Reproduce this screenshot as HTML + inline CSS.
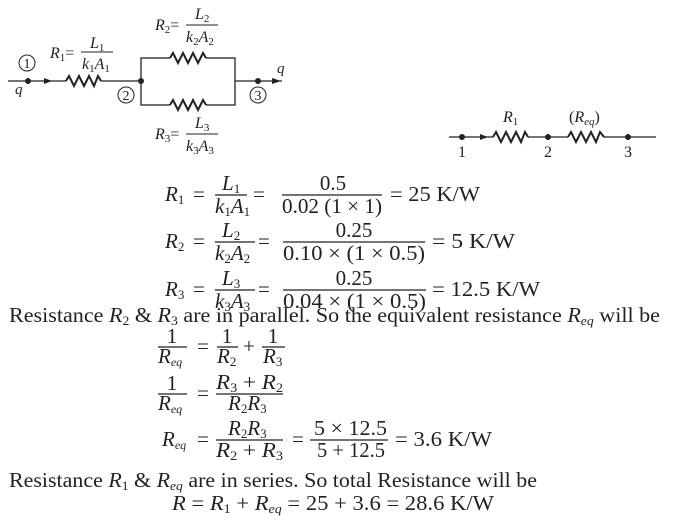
<!DOCTYPE html>
<html><head><meta charset="utf-8"><style>
html,body{margin:0;padding:0;background:#fff;}
svg{display:block;}
text{font-family:"Liberation Serif",serif;fill:#222;}
.i{font-style:italic;}
</style></head><body>
<svg width="698" height="521" viewBox="0 0 698 521" xmlns="http://www.w3.org/2000/svg">
<g stroke="#222" stroke-width="1.3" fill="none">
<line x1="8" y1="81" x2="66" y2="81"/>
<polyline points="66,81 69,76 74,86 79,76 84,86 89,76 94,86 98,76 101,81" stroke-width="2"/>
<line x1="101" y1="81" x2="141" y2="81"/>
<rect x="141" y="58" width="94" height="47"/>
<line x1="235" y1="81" x2="282" y2="81"/>
<line x1="449" y1="137" x2="493" y2="137"/>
<line x1="528" y1="137" x2="568" y2="137"/>
<line x1="604" y1="137" x2="656" y2="137"/>
</g>
<g fill="#fff" stroke="none">
<rect x="170" y="52" width="36" height="12"/><rect x="170" y="99" width="36" height="12"/>
</g>
<g stroke="#222" stroke-width="2" fill="none">
<polyline points="170,58 173,53 178,63 183,53 188,63 193,53 198,63 203,53 206,58"/>
<polyline points="170,105 173,100 178,110 183,100 188,110 193,100 198,110 203,100 206,105"/>
<polyline points="493,137 496,132 501,142 506,132 511,142 516,132 521,142 525,132 528,137"/>
<polyline points="568,137 571,132 576,142 581,132 586,142 591,132 596,142 600,132 604,137"/>
</g>
<g fill="#222">
<circle cx="28" cy="81" r="3"/><circle cx="141" cy="81" r="3"/><circle cx="258" cy="81" r="3"/>
<polygon points="44,78 52,81 44,84"/><polygon points="272,78 281,81 272,84"/>
<circle cx="462" cy="137" r="3"/><circle cx="548" cy="137" r="3"/><circle cx="628" cy="137" r="3"/>
<polygon points="480,134 488,137 480,140"/>
</g>
<g fill="none" stroke="#222" stroke-width="1">
<circle cx="27" cy="63" r="8"/><circle cx="126" cy="95" r="8"/><circle cx="258" cy="95" r="8"/>
</g>
<g font-size="14" text-anchor="middle">
<text x="27" y="68">1</text><text x="126" y="100">2</text><text x="258" y="100">3</text>
</g>
<text x="15" y="94" font-size="15" class="i">q</text>
<text x="277" y="73" font-size="15" class="i">q</text>
<g font-size="16">
<text x="50" y="58" class="i">R<tspan font-size="11" dy="3" font-style="normal">1</tspan><tspan dy="-3" font-style="normal">=</tspan></text>
<text x="90" y="48" class="i">L<tspan font-size="11" dy="3" font-style="normal">1</tspan></text>
<line x1="81" y1="52" x2="113" y2="52" stroke="#222"/>
<text x="82" y="69" class="i">k<tspan font-size="11" dy="3" font-style="normal">1</tspan><tspan dy="-3">A</tspan><tspan font-size="11" dy="3" font-style="normal">1</tspan></text>

<text x="155" y="30" class="i">R<tspan font-size="11" dy="3" font-style="normal">2</tspan><tspan dy="-3" font-style="normal">=</tspan></text>
<text x="195" y="19" class="i">L<tspan font-size="11" dy="3" font-style="normal">2</tspan></text>
<line x1="186" y1="25" x2="218" y2="25" stroke="#222"/>
<text x="186" y="42" class="i">k<tspan font-size="11" dy="3" font-style="normal">2</tspan><tspan dy="-3">A</tspan><tspan font-size="11" dy="3" font-style="normal">2</tspan></text>

<text x="155" y="139" class="i">R<tspan font-size="11" dy="3" font-style="normal">3</tspan><tspan dy="-3" font-style="normal">=</tspan></text>
<text x="195" y="128" class="i">L<tspan font-size="11" dy="3" font-style="normal">3</tspan></text>
<line x1="186" y1="134" x2="218" y2="134" stroke="#222"/>
<text x="186" y="151" class="i">k<tspan font-size="11" dy="3" font-style="normal">3</tspan><tspan dy="-3">A</tspan><tspan font-size="11" dy="3" font-style="normal">3</tspan></text>

<text x="503" y="122" class="i">R<tspan font-size="11" dy="3" font-style="normal">1</tspan></text>
<text x="569" y="122">(<tspan class="i">R</tspan><tspan class="i" font-size="11" dy="3">eq</tspan><tspan dy="-3">)</tspan></text>
<text x="458" y="157">1</text><text x="544" y="157">2</text><text x="624" y="157">3</text>
</g>
<g font-size="21">
<text x="165" y="201" class="i">R<tspan font-size="13" dy="3" font-style="normal">1</tspan></text>
<text x="193" y="201">=</text>
<text x="222" y="190" class="i">L<tspan font-size="13" dy="3" font-style="normal">1</tspan></text>
<line x1="215" y1="195" x2="247" y2="195" stroke="#222" stroke-width="1.2"/>
<text x="215" y="213" class="i">k<tspan font-size="13" dy="3" font-style="normal">1</tspan><tspan dy="-3">A</tspan><tspan font-size="13" dy="3" font-style="normal">1</tspan></text>
<text x="253" y="201">=</text>
<text x="333" y="190" text-anchor="middle">0.5</text>
<line x1="282" y1="195" x2="382" y2="195" stroke="#222" stroke-width="1.2"/>
<text x="282" y="213" textLength="100" lengthAdjust="spacingAndGlyphs">0.02 (1 × 1)</text>
<text x="390" y="201" textLength="90" lengthAdjust="spacingAndGlyphs">= 25 K/W</text>

<text x="165" y="248" class="i">R<tspan font-size="13" dy="3" font-style="normal">2</tspan></text>
<text x="193" y="248">=</text>
<text x="222" y="237" class="i">L<tspan font-size="13" dy="3" font-style="normal">2</tspan></text>
<line x1="215" y1="242" x2="255" y2="242" stroke="#222" stroke-width="1.2"/>
<text x="215" y="260" class="i">k<tspan font-size="13" dy="3" font-style="normal">2</tspan><tspan dy="-3">A</tspan><tspan font-size="13" dy="3" font-style="normal">2</tspan></text>
<text x="258" y="248">=</text>
<text x="354" y="237" text-anchor="middle">0.25</text>
<line x1="283" y1="242" x2="425" y2="242" stroke="#222" stroke-width="1.2"/>
<text x="283" y="260" textLength="142" lengthAdjust="spacingAndGlyphs">0.10 × (1 × 0.5)</text>
<text x="432" y="248" textLength="83" lengthAdjust="spacingAndGlyphs">= 5 K/W</text>

<text x="165" y="296" class="i">R<tspan font-size="13" dy="3" font-style="normal">3</tspan></text>
<text x="193" y="296">=</text>
<text x="222" y="285" class="i">L<tspan font-size="13" dy="3" font-style="normal">3</tspan></text>
<line x1="215" y1="290" x2="255" y2="290" stroke="#222" stroke-width="1.2"/>
<text x="215" y="308" class="i">k<tspan font-size="13" dy="3" font-style="normal">3</tspan><tspan dy="-3">A</tspan><tspan font-size="13" dy="3" font-style="normal">3</tspan></text>
<text x="258" y="296">=</text>
<text x="354" y="285" text-anchor="middle">0.25</text>
<line x1="283" y1="290" x2="426" y2="290" stroke="#222" stroke-width="1.2"/>
<text x="283" y="308" textLength="143" lengthAdjust="spacingAndGlyphs">0.04 × (1 × 0.5)</text>
<text x="432" y="296" textLength="108" lengthAdjust="spacingAndGlyphs">= 12.5 K/W</text>

<text x="9" y="322" textLength="651" lengthAdjust="spacingAndGlyphs">Resistance <tspan class="i">R</tspan><tspan font-size="13" dy="3">2</tspan><tspan dy="-3"> &amp; </tspan><tspan class="i">R</tspan><tspan font-size="13" dy="3">3</tspan><tspan dy="-3"> are in parallel. So the equivalent resistance </tspan><tspan class="i">R</tspan><tspan class="i" font-size="13" dy="3">eq</tspan><tspan dy="-3"> will be</tspan></text>

<text x="172" y="343" text-anchor="middle">1</text>
<line x1="158" y1="347" x2="187" y2="347" stroke="#222" stroke-width="1.2"/>
<text x="158" y="363" class="i">R<tspan font-size="12" dy="3">eq</tspan></text>
<text x="197" y="353">=</text>
<text x="227" y="343" text-anchor="middle">1</text>
<line x1="217" y1="347" x2="238" y2="347" stroke="#222" stroke-width="1.2"/>
<text x="217" y="363" class="i">R<tspan font-size="13" dy="3" font-style="normal">2</tspan></text>
<text x="243" y="353">+</text>
<text x="273" y="343" text-anchor="middle">1</text>
<line x1="262" y1="347" x2="285" y2="347" stroke="#222" stroke-width="1.2"/>
<text x="263" y="363" class="i">R<tspan font-size="13" dy="3" font-style="normal">3</tspan></text>

<text x="172" y="390" text-anchor="middle">1</text>
<line x1="158" y1="394" x2="187" y2="394" stroke="#222" stroke-width="1.2"/>
<text x="158" y="410" class="i">R<tspan font-size="12" dy="3">eq</tspan></text>
<text x="197" y="400">=</text>
<text x="216" y="389" class="i" textLength="67" lengthAdjust="spacingAndGlyphs">R<tspan font-size="13" dy="3" font-style="normal">3</tspan><tspan dy="-3" font-style="normal"> + </tspan>R<tspan font-size="13" dy="3" font-style="normal">2</tspan></text>
<line x1="216" y1="394" x2="283" y2="394" stroke="#222" stroke-width="1.2"/>
<text x="228" y="410" class="i">R<tspan font-size="13" dy="3" font-style="normal">2</tspan><tspan dy="-3">R</tspan><tspan font-size="13" dy="3" font-style="normal">3</tspan></text>

<text x="162" y="446" class="i">R<tspan font-size="12" dy="3">eq</tspan></text>
<text x="197" y="446">=</text>
<text x="228" y="435" class="i">R<tspan font-size="13" dy="3" font-style="normal">2</tspan><tspan dy="-3">R</tspan><tspan font-size="13" dy="3" font-style="normal">3</tspan></text>
<line x1="216" y1="440" x2="283" y2="440" stroke="#222" stroke-width="1.2"/>
<text x="216" y="457" class="i" textLength="67" lengthAdjust="spacingAndGlyphs">R<tspan font-size="13" dy="3" font-style="normal">2</tspan><tspan dy="-3" font-style="normal"> + </tspan>R<tspan font-size="13" dy="3" font-style="normal">3</tspan></text>
<text x="292" y="446">=</text>
<text x="314" y="435" textLength="73" lengthAdjust="spacingAndGlyphs">5 × 12.5</text>
<line x1="310" y1="440" x2="388" y2="440" stroke="#222" stroke-width="1.2"/>
<text x="317" y="457" textLength="68" lengthAdjust="spacingAndGlyphs">5 + 12.5</text>
<text x="395" y="446" textLength="97" lengthAdjust="spacingAndGlyphs">= 3.6 K/W</text>

<text x="9" y="487" textLength="528" lengthAdjust="spacingAndGlyphs">Resistance <tspan class="i">R</tspan><tspan font-size="13" dy="3">1</tspan><tspan dy="-3"> &amp; </tspan><tspan class="i">R</tspan><tspan class="i" font-size="13" dy="3">eq</tspan><tspan dy="-3"> are in series. So total Resistance will be</tspan></text>
<text x="172" y="510" textLength="322" lengthAdjust="spacingAndGlyphs"><tspan class="i">R</tspan> = <tspan class="i">R</tspan><tspan font-size="13" dy="3">1</tspan><tspan dy="-3"> + </tspan><tspan class="i">R</tspan><tspan class="i" font-size="13" dy="3">eq</tspan><tspan dy="-3"> = 25 + 3.6 = 28.6 K/W</tspan></text>
</g>
</svg>
</body></html>
